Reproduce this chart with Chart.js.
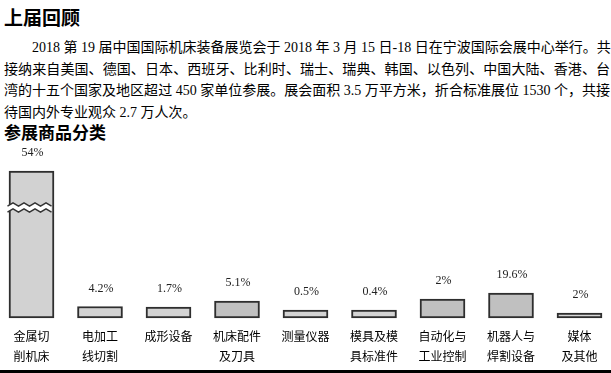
<!DOCTYPE html>
<html>
<head>
<meta charset="utf-8">
<script src="https://cdn.jsdelivr.net/npm/chart.js@4"></script>
<style>
  html, body { margin: 0; padding: 0; background: #fff; }
  body { width: 611px; height: 373px; overflow: hidden; position: relative; }
  .title { position: absolute; left: 4px; top: 6px; font: bold 19px/22px "Noto Sans CJK SC", sans-serif; color: #000; }
  .intro { position: absolute; left: 4px; top: 37px; width: 606px;
           font: 14px/21.7px "Liberation Serif", "Noto Sans CJK SC", serif; color: #000; }
  .intro div { white-space: nowrap; text-align: justify; text-align-last: justify; }
  .intro div.first { padding-left: 28px; }
  .intro div.last { text-align-last: left; }
  .subtitle { position: absolute; left: 4px; top: 121px; font: bold 17px/22px "Noto Sans CJK SC", sans-serif; color: #000; }
  #chart-box { position: absolute; left: 0; top: 140px; width: 611px; height: 233px; }
  .rule { position: absolute; left: 0; top: 370px; width: 611px; height: 3px; background: #000; }
</style>
</head>
<body>
<div class="title">上届回顾</div>
<div class="intro">
  <div class="first">2018 第 19 届中国国际机床装备展览会于 2018 年 3 月 15 日-18 日在宁波国际会展中心举行。共</div>
  <div>接纳来自美国、德国、日本、西班牙、比利时、瑞士、瑞典、韩国、以色列、中国大陆、香港、台</div>
  <div>湾的十五个国家及地区超过 450 家单位参展。展会面积 3.5 万平方米，折合标准展位 1530 个，共接</div>
  <div class="last">待国内外专业观众 2.7 万人次。</div>
</div>
<div class="subtitle">参展商品分类</div>
<div id="chart-box"><canvas id="share-chart" width="611" height="233"></canvas></div>
<div class="rule"></div>

<script>
// Categories (two-line labels as in the picture)
const categories = [
  ['金属切', '削机床'],
  ['电加工', '线切割'],
  ['成形设备'],
  ['机床配件', '及刀具'],
  ['测量仪器'],
  ['模具及模', '具标准件'],
  ['自动化与', '工业控制'],
  ['机器人与', '焊割设备'],
  ['媒体', '及其他']
];
// Share printed above each bar
const shareLabels = ['54%', '4.2%', '1.7%', '5.1%', '0.5%', '0.4%', '2%', '19.6%', '2%'];
// Bar heights as drawn in the source picture (it is not to scale, first bar is broken)
const drawnHeights = [147, 11.5, 11, 17, 8, 8, 19, 25, 5];
const barFills = ['#d2d2d2', '#d3d3d3', '#d3d3d3', '#c0c0c0', '#d3d3d3', '#d3d3d3', '#c0c0c0', '#c0c0c0', '#d6d6d6'];

// labels above bars + the zigzag break on the first bar
const barExtras = {
  id: 'barExtras',
  afterDatasetsDraw(chart) {
    const ctx = chart.ctx;
    const bars = chart.getDatasetMeta(0).data;

    // break mark on the tall bar
    const b = bars[0];
    const x0 = b.x - 24, x1 = b.x + 24;
    const yTop = b.y + 33.5, gap = 6, step = 5.5, amp = 1.6;
    const zig = (y) => {
      const pts = [];
      let i = 0;
      for (let x = x0; x <= x1 + 0.1; x += step, i++) {
        pts.push([x, y + (i % 2 === 0 ? amp : -amp)]);
      }
      return pts;
    };
    const upper = zig(yTop);
    const lower = zig(yTop + gap);
    ctx.save();
    ctx.beginPath();
    upper.forEach((p, i) => i ? ctx.lineTo(p[0], p[1]) : ctx.moveTo(p[0], p[1]));
    lower.slice().reverse().forEach(p => ctx.lineTo(p[0], p[1]));
    ctx.closePath();
    ctx.fillStyle = '#fff';
    ctx.fill();
    ctx.strokeStyle = '#333';
    ctx.lineWidth = 1.5;
    [upper, lower].forEach(line => {
      ctx.beginPath();
      line.forEach((p, i) => i ? ctx.lineTo(p[0], p[1]) : ctx.moveTo(p[0], p[1]));
      ctx.stroke();
    });

    // share labels
    ctx.font = '12px "Liberation Serif", serif';
    ctx.fillStyle = '#222';
    ctx.textAlign = 'center';
    ctx.textBaseline = 'middle';
    bars.forEach((bar, i) => {
      ctx.fillText(shareLabels[i], bar.x + 1, bar.y - 18);
    });
    ctx.restore();
  }
};

new Chart(document.getElementById('share-chart'), {
  type: 'bar',
  data: {
    labels: categories,
    datasets: [{
      data: drawnHeights,
      backgroundColor: barFills,
      borderColor: '#2e2e2e',
      borderWidth: 2,
      borderSkipped: false,
      barThickness: 45,
      clip: false
    }]
  },
  options: {
    responsive: false,
    animation: false,
    devicePixelRatio: 1,
    layout: { padding: { left: 31.5, right: 31.5, top: 0, bottom: 0 } },
    plugins: { legend: { display: false }, tooltip: { enabled: false } },
    scales: {
      x: {
        offset: false,
        grid: { display: false, drawTicks: false },
        border: { display: false },
        ticks: {
          autoSkip: false,
          maxRotation: 0,
          padding: 8,
          color: '#000',
          font: { family: '"Noto Sans CJK SC", sans-serif', size: 12, lineHeight: 1.667 }
        },
        afterFit(scale) { scale.height = 55; }
      },
      y: {
        display: false,
        min: 0,
        max: 178
      }
    }
  },
  plugins: [barExtras]
});
</script>
</body>
</html>
